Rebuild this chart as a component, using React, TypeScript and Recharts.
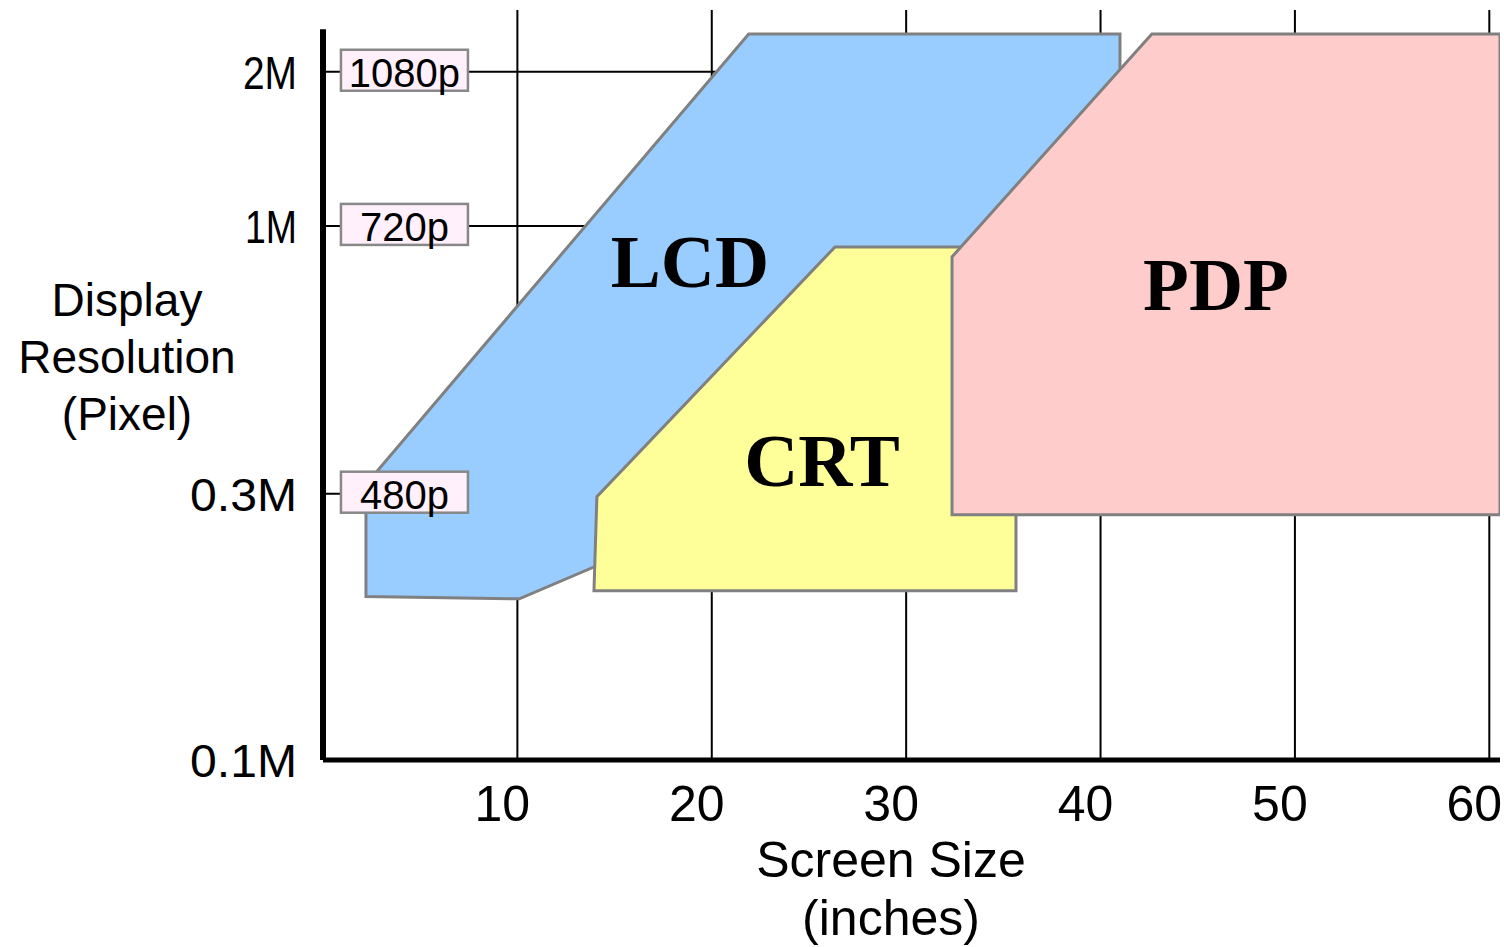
import React from 'react'
import {
  ComposedChart, Scatter, XAxis, YAxis, CartesianGrid,
  ReferenceLine, ReferenceDot, Label
} from 'recharts'

// screen size (inches) vs. display resolution (million pixels)
const lcdOutline = [
  { x: 2.21, y: 0.189 },
  { x: 2.21, y: 0.313 },
  { x: 21.9, y: 2.37 },
  { x: 41.0, y: 2.37 },
  { x: 41.0, y: 1.84 },
  { x: 34.3, y: 0.982 },
  { x: 24.5, y: 0.457 },
  { x: 16.8, y: 0.24 },
  { x: 10.1, y: 0.187 },
]
const crtOutline = [
  { x: 13.94, y: 0.194 },
  { x: 14.09, y: 0.296 },
  { x: 26.34, y: 0.91 },
  { x: 35.65, y: 0.91 },
  { x: 35.65, y: 0.194 },
]
const pdpOutline = [
  { x: 32.36, y: 0.273 },
  { x: 32.36, y: 0.87 },
  { x: 42.64, y: 2.37 },
  { x: 60.55, y: 2.37 },
  { x: 60.55, y: 0.273 },
]

const regionLabels = [
  { name: 'LCD', x: 18.88, y: 0.851 },
  { name: 'CRT', x: 25.67, y: 0.348 },
  { name: 'PDP', x: 45.94, y: 0.77 },
]

const formatNames = ['1080p', '720p', '480p']
const formatPixels = [2, 1, 0.3]
const formatBoxX = 4.19

const xTicks = [10, 20, 30, 40, 50, 60]
const yMin = 0.0906
const yMax = 2.64
const yTicks = [yMin, 0.3, 1, 2]
const yTickLabels = ['0.1M', '0.3M', '1M', '2M']
const yAxisTop = 2.42

const SANS = '"Liberation Sans", Arial, sans-serif'
const SERIF = '"Liberation Serif", "Times New Roman", serif'

const fills: Record<string, string> = { LCD: '#99ccff', CRT: '#ffff99', PDP: '#ffcccc' }

const polygon = (fill: string) => (p: { points?: { x: number; y: number }[] }) => {
  const pts = p.points || []
  if (!pts.length) return <g />
  const d = 'M' + pts.map(pt => `${pt.x},${pt.y}`).join('L') + 'Z'
  return <path d={d} fill={fill} stroke="#808080" strokeWidth={3} strokeLinejoin="miter" />
}

const NoDot = () => <g />

const XTick = ({ x, y, payload }: any) => (
  <text x={x - 15} y={y + 61} textAnchor="middle" fontFamily={SANS} fontSize={50} fill="#000">
    {payload.value}
  </text>
)

const yWidths: Record<string, number> = { '2M': 54, '1M': 52, '0.3M': 107, '0.1M': 107 }

const YTick = ({ x, y, payload }: any) => {
  const i = yTicks.indexOf(payload.value)
  const text = yTickLabels[i] ?? ''
  return (
    <text
      x={x - 26} y={y + 17} textAnchor="end" fontFamily={SANS} fontSize={47} fill="#000"
      textLength={yWidths[text]} lengthAdjust="spacingAndGlyphs"
    >
      {text}
    </text>
  )
}

const FormatBox = (name: string) => (p: any) => (
  <g>
    <rect x={p.cx - 63.5} y={p.cy - 22} width={127} height={41} fill="#fff0fb" stroke="#888" strokeWidth={2.5} />
    <text x={p.cx} y={p.cy + 15} textAnchor="middle" fontFamily={SANS} fontSize={40} fill="#000">{name}</text>
  </g>
)

const RegionText = (name: string) => (p: any) => (
  <text
    x={p.cx} y={p.cy} textAnchor="middle" dominantBaseline="central"
    fontFamily={SERIF} fontWeight="bold" fontSize={75} fill="#000"
  >
    {name}
  </text>
)

const YTitle = () => (
  <g fontFamily={SANS} fontSize={46} fill="#000" textAnchor="middle">
    <text x={127} y={316}>Display</text>
    <text x={127} y={373}>Resolution</text>
    <text x={127} y={430}>(Pixel)</text>
  </g>
)

const XTitle = () => (
  <g fontFamily={SANS} fontSize={50} fill="#000" textAnchor="middle">
    <text x={891} y={877}>Screen Size</text>
    <text x={891} y={935}>(inches)</text>
  </g>
)

export default function App() {
  return (
    <div style={{ position: 'absolute', left: 0, top: 0, width: 1504, height: 947, background: '#fff' }}>
      <ComposedChart width={1504} height={947} margin={{ top: 10, right: 4, bottom: 0, left: 0 }}>
        <CartesianGrid horizontal={false} syncWithTicks stroke="#000" strokeWidth={2} />
        <XAxis
          type="number" dataKey="x" domain={[0, 60.55]} ticks={xTicks} allowDataOverflow
          height={187} tickLine={false} tickSize={0} tickMargin={0} interval={0}
          axisLine={{ stroke: '#000', strokeWidth: 5 }} tick={<XTick />}
        >
          <Label content={<XTitle />} />
        </XAxis>
        <YAxis
          type="number" dataKey="y" scale="log" domain={[yMin, yMax]} ticks={yTicks} allowDataOverflow
          width={323} tickLine={false} tickSize={0} tickMargin={0} interval={0}
          axisLine={false} tick={<YTick />}
        >
          <Label content={<YTitle />} />
        </YAxis>

        {formatPixels.map(v => (
          <ReferenceLine key={v} y={v} stroke="#000" strokeWidth={2} zIndex={50} />
        ))}

        <Scatter data={lcdOutline} line={polygon(fills.LCD)} shape={<NoDot />} isAnimationActive={false} legendType="none" zIndex={100} />
        <Scatter data={crtOutline} line={polygon(fills.CRT)} shape={<NoDot />} isAnimationActive={false} legendType="none" zIndex={101} />
        <Scatter data={pdpOutline} line={polygon(fills.PDP)} shape={<NoDot />} isAnimationActive={false} legendType="none" zIndex={102} />

        <ReferenceLine segment={[{ x: 0, y: yMin }, { x: 0, y: yAxisTop }]} stroke="#000" strokeWidth={6} zIndex={150} />

        {regionLabels.map(r => (
          <ReferenceDot key={r.name} x={r.x} y={r.y} r={0} shape={RegionText(r.name)} zIndex={200} />
        ))}
        {formatNames.map((n, i) => (
          <ReferenceDot key={n} x={formatBoxX} y={formatPixels[i]} r={0} shape={FormatBox(n)} zIndex={210} />
        ))}
      </ComposedChart>
    </div>
  )
}
